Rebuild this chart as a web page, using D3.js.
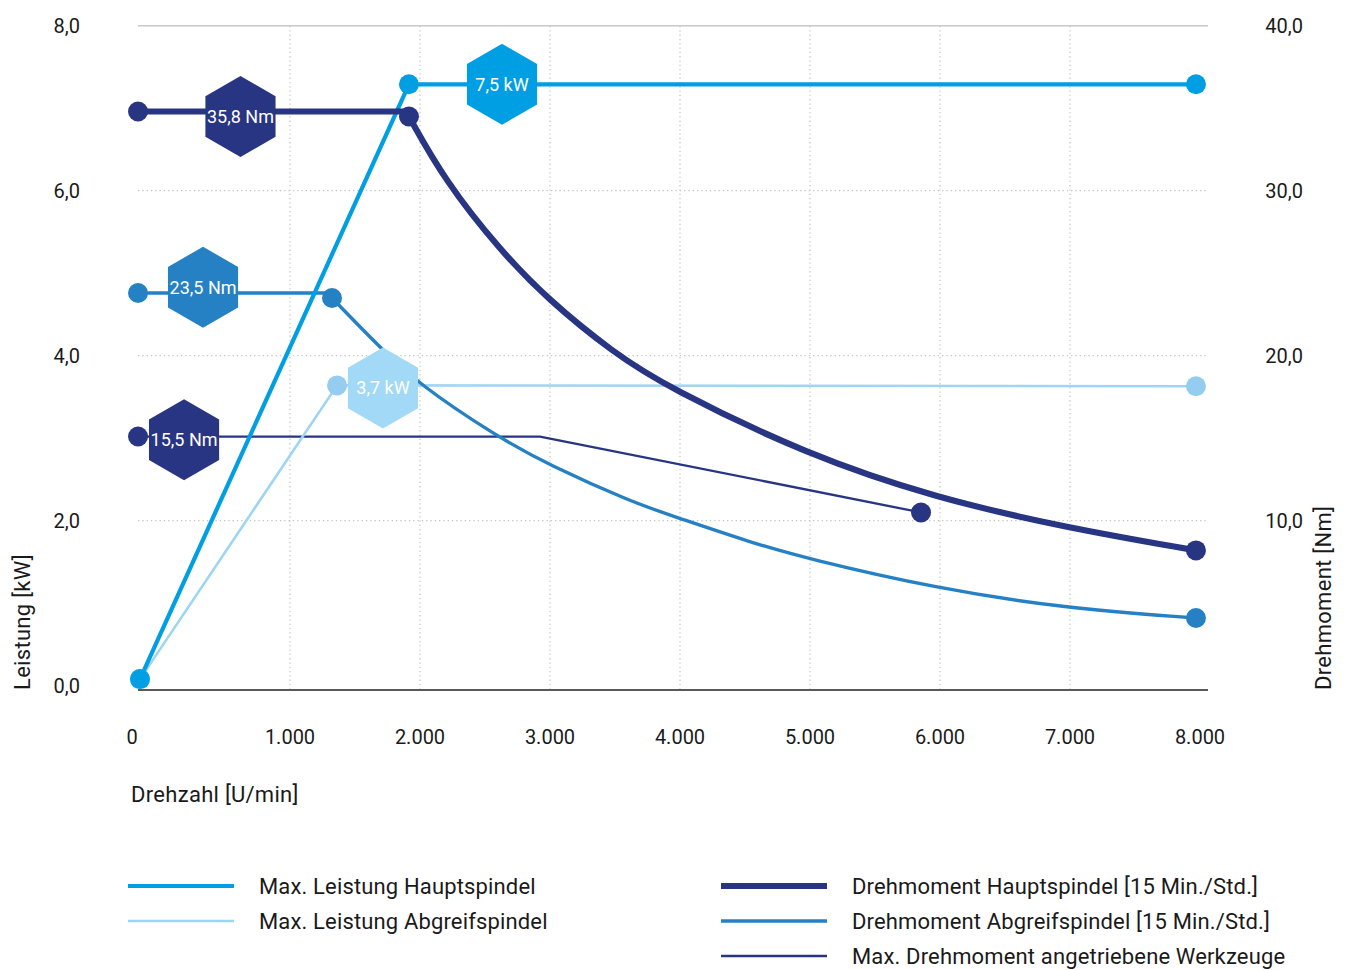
<!DOCTYPE html>
<html>
<head>
<meta charset="utf-8">
<script src="https://cdn.jsdelivr.net/npm/d3@7"></script>
<style>
  html, body { margin: 0; padding: 0; background: #fff; }
  svg text { font-family: "Roboto", "DejaVu Sans", sans-serif; fill: #1a1a1a; }
</style>
</head>
<body>
<svg id="chart" width="1347" height="970"></svg>
<script>
// ---------- DATA ----------
const xTicks = [0, 1000, 2000, 3000, 4000, 5000, 6000, 7000, 8000];
const xTickLabels = ["0", "1.000", "2.000", "3.000", "4.000", "5.000", "6.000", "7.000", "8.000"];
const kwTicks = [0, 2, 4, 6, 8];
const kwTickLabels = ["0,0", "2,0", "4,0", "6,0", "8,0"];
const nmTicks = [10, 20, 30, 40];
const nmTickLabels = ["10,0", "20,0", "30,0", "40,0"];

// Max. Leistung Hauptspindel [kW]
const powerMainRpm = [-154, 1915, 7969];
const powerMainKw  = [0.08, 7.29, 7.29];
// Max. Leistung Abgreifspindel [kW]
const powerSubRpm = [-154, 1362, 7969];
const powerSubKw  = [0.08, 3.64, 3.63];

// Drehmoment Hauptspindel [Nm]
const torqueMainFlatRpm = [-169, 1915];
const torqueMainFlatNm  = [34.8, 34.8];
const torqueMainCurveRpm = [1915, 2192, 2615, 2985, 3485, 3900, 4977, 5962, 6954, 7969];
const torqueMainCurveNm  = [34.5, 30.6, 26.4, 23.4, 20.2, 18.1, 14.0, 11.4, 9.6, 8.2];

// Drehmoment Abgreifspindel [Nm]
const torqueSubFlatRpm = [-169, 1323];
const torqueSubFlatNm  = [23.8, 23.8];
const torqueSubCurveRpm = [1323, 1692, 1985, 2592, 2985, 3638, 3977, 4538, 4977, 5969, 6954, 7969];
const torqueSubCurveNm  = [23.5, 20.5, 18.3, 15.1, 13.4, 11.1, 10.2, 8.7, 7.7, 5.9, 4.7, 4.1];

// Max. Drehmoment angetriebene Werkzeuge [Nm]
const toolRpm = [-169, 2923, 5854];
const toolNm  = [15.1, 15.1, 10.5];

// Hexagon badges
const badgeText = ["7,5 kW", "35,8 Nm", "23,5 Nm", "15,5 Nm", "3,7 kW"];
const badgeRpm  = [2631, 619, 331, 185, 1715];
const badgeKw   = [7.29, 6.90, 4.83, 2.98, 3.61];   // position on power axis (kW)

const legendLeft  = ["Max. Leistung Hauptspindel", "Max. Leistung Abgreifspindel"];
const legendRight = ["Drehmoment Hauptspindel [15 Min./Std.]", "Drehmoment Abgreifspindel [15 Min./Std.]", "Max. Drehmoment angetriebene Werkzeuge"];

// ---------- STYLE ----------
const C = {
  bright: "#009fe3",
  light: "#9dd5f4",
  lightDot: "#94cdf0",
  navy: "#283583",
  mid: "#2581c4",
  badgeLight: "#a2d9f6"
};

const svg = d3.select("#chart");
const plotLeft = 138, plotRight = 1208, plotTop = 26, plotBottom = 690;

const x = d3.scaleLinear().domain([0, 8000]).range([160, 1200]);
const yKw = d3.scaleLinear().domain([0, 8]).range([685.7, 25.7]);
const yNm = d3.scaleLinear().domain([0, 40]).range([685.7, 25.7]);

// gridlines
const grid = svg.append("g");
grid.selectAll("line.v").data(xTicks.slice(1, 8)).enter().append("line")
  .attr("x1", d => x(d)).attr("x2", d => x(d))
  .attr("y1", plotTop).attr("y2", plotBottom)
  .attr("stroke", "#c4c4c4").attr("stroke-width", 1.2).attr("stroke-dasharray", "1.3,3");
grid.selectAll("line.h").data(kwTicks.filter(d => d > 0 && d < 8)).enter().append("line")
  .attr("x1", plotLeft).attr("x2", plotRight)
  .attr("y1", d => yKw(d)).attr("y2", d => yKw(d))
  .attr("stroke", "#c4c4c4").attr("stroke-width", 1.2).attr("stroke-dasharray", "1.3,3");
grid.append("line").attr("x1", plotLeft).attr("x2", plotRight)
  .attr("y1", yKw(8)).attr("y2", yKw(8)).attr("stroke", "#c8c8c8").attr("stroke-width", 1.6);
grid.append("line").attr("x1", plotLeft).attr("x2", plotRight)
  .attr("y1", plotBottom).attr("y2", plotBottom).attr("stroke", "#5a5a5a").attr("stroke-width", 1.8);

// axes (custom ticks via scales)
const fs = 20;
svg.append("g").selectAll("text").data(kwTicks).enter().append("text")
  .attr("x", 80).attr("y", d => yKw(d)).attr("dy", "0.35em")
  .attr("text-anchor", "end").attr("font-size", fs).text((d, i) => kwTickLabels[i]);
svg.append("g").selectAll("text").data(nmTicks).enter().append("text")
  .attr("x", 1303).attr("y", d => yNm(d)).attr("dy", "0.35em")
  .attr("text-anchor", "end").attr("font-size", fs).text((d, i) => nmTickLabels[i]);
svg.append("g").selectAll("text").data(xTicks).enter().append("text")
  .attr("x", (d, i) => i === 0 ? plotLeft - 6 : x(d)).attr("y", 744)
  .attr("text-anchor", "middle").attr("font-size", fs).text((d, i) => xTickLabels[i]);

svg.append("text").attr("transform", "translate(30,690) rotate(-90)")
  .attr("font-size", 22).attr("letter-spacing", 0.3).text("Leistung [kW]");
svg.append("text").attr("transform", "translate(1331,690) rotate(-90)")
  .attr("font-size", 22).attr("letter-spacing", 0.3).text("Drehmoment [Nm]");
svg.append("text").attr("x", 131).attr("y", 802).attr("font-size", 22)
  .attr("letter-spacing", 0.3).text("Drehzahl [U/min]");

// ---------- SERIES ----------
const zip = (a, b) => a.map((v, i) => [v, b[i]]);
const lineKw = d3.line().x(d => x(d[0])).y(d => yKw(d[1]));
const lineNm = d3.line().x(d => x(d[0])).y(d => yNm(d[1]));
const curveNm = d3.line().x(d => x(d[0])).y(d => yNm(d[1])).curve(d3.curveBasis);

const lines = svg.append("g").attr("fill", "none").attr("stroke-linejoin", "round").attr("stroke-linecap", "round");
lines.append("path").attr("d", lineNm(zip(toolRpm, toolNm))).attr("stroke", C.navy).attr("stroke-width", 2.3);
lines.append("path").attr("d", lineKw(zip(powerSubRpm, powerSubKw))).attr("stroke", C.light).attr("stroke-width", 2.6);
lines.append("path").attr("d", lineNm(zip(torqueSubFlatRpm, torqueSubFlatNm))).attr("stroke", C.mid).attr("stroke-width", 3.4);
lines.append("path").attr("d", curveNm(zip(torqueSubCurveRpm, torqueSubCurveNm))).attr("stroke", C.mid).attr("stroke-width", 3.4);
lines.append("path").attr("d", lineKw(zip(powerMainRpm, powerMainKw))).attr("stroke", C.bright).attr("stroke-width", 4.2);
lines.append("path").attr("d", lineNm(zip(torqueMainFlatRpm, torqueMainFlatNm))).attr("stroke", C.navy).attr("stroke-width", 6.2);
lines.append("path").attr("d", curveNm(zip(torqueMainCurveRpm, torqueMainCurveNm))).attr("stroke", C.navy).attr("stroke-width", 6.2);

// dots
const dots = svg.append("g");
function addDots(pts, yS, color) {
  dots.selectAll(null).data(pts).enter().append("circle")
    .attr("cx", d => x(d[0])).attr("cy", d => yS(d[1])).attr("r", 10).attr("fill", color);
}
const last = a => a[a.length - 1];
addDots([[toolRpm[0], toolNm[0]], [last(toolRpm), last(toolNm)]], yNm, C.navy);
addDots([[torqueSubFlatRpm[0], torqueSubFlatNm[0]], [torqueSubCurveRpm[0], torqueSubCurveNm[0]], [last(torqueSubCurveRpm), last(torqueSubCurveNm)]], yNm, C.mid);
addDots([[torqueMainFlatRpm[0], torqueMainFlatNm[0]], [torqueMainCurveRpm[0], torqueMainCurveNm[0]], [last(torqueMainCurveRpm), last(torqueMainCurveNm)]], yNm, C.navy);
addDots(zip(powerSubRpm, powerSubKw), yKw, C.lightDot);
addDots(zip(powerMainRpm, powerMainKw), yKw, C.bright);

// badges
const badgeColors = [C.bright, C.navy, C.mid, C.navy, C.badgeLight];
const hexR = 40.5;
const hexPts = d3.range(6).map(i => {
  const a = Math.PI / 3 * i - Math.PI / 2;
  return [hexR * Math.cos(a), hexR * Math.sin(a)];
});
const badges = svg.append("g").selectAll("g").data(badgeText).enter().append("g")
  .attr("transform", (d, i) => `translate(${x(badgeRpm[i])},${yKw(badgeKw[i])})`);
badges.append("polygon").attr("points", hexPts.map(p => p.join(",")).join(" "))
  .attr("fill", (d, i) => badgeColors[i]);
badges.append("text").attr("text-anchor", "middle").attr("dy", "0.35em")
  .attr("font-size", 18).style("fill", "#fff").text(d => d);

// legend
const legend = svg.append("g");
const legL = [{c: C.bright, w: 4.2}, {c: C.light, w: 2.6}];
const legR = [{c: C.navy, w: 6.2}, {c: C.mid, w: 3.4}, {c: C.navy, w: 2.3}];
function legendCol(items, styles, x0) {
  const g = legend.selectAll(null).data(items).enter().append("g")
    .attr("transform", (d, i) => `translate(${x0},${886 + i * 35})`);
  g.append("line").attr("x1", 0).attr("x2", 106).attr("y1", 0).attr("y2", 0)
    .attr("stroke", (d, i) => styles[i].c).attr("stroke-width", (d, i) => styles[i].w);
  g.append("text").attr("x", 131).attr("dy", "0.35em").attr("font-size", 22)
    .attr("letter-spacing", 0.15).text(d => d);
}
legendCol(legendLeft, legL, 128);
legendCol(legendRight, legR, 721);
</script>
</body>
</html>
